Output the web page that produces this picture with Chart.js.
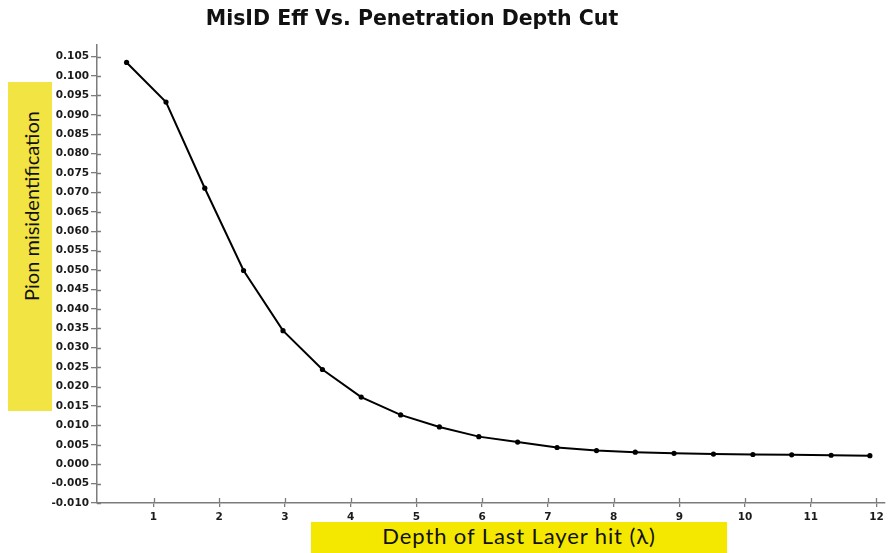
<!DOCTYPE html>
<html>
<head>
<meta charset="utf-8">
<script src="https://cdn.jsdelivr.net/npm/chart.js@4/dist/chart.umd.min.js"></script>
<style>
  html, body { margin: 0; padding: 0; background: #fff; }
  #wrap { position: relative; width: 889px; height: 553px; overflow: hidden; }
  #chart { position: absolute; left: 0; top: 0; }
  .ybox { position: absolute; left: 8px; top: 82px; width: 44px; height: 329px; background: #f1e443; }
  .xbox { position: absolute; left: 311px; top: 522px; width: 416px; height: 31px; background: #f5e800; }
  .ylab { position: absolute; left: -89px; top: 194px; width: 240px; height: 24px; line-height: 24px;
          text-align: center; transform: rotate(-90deg); font: 20px Lato, "Open Sans", sans-serif; color: #111; }
  .xlab { position: absolute; left: 311px; top: 522px; width: 416px; height: 31px; line-height: 33px;
          text-align: center; font: 22px Lato, "Open Sans", sans-serif; letter-spacing: 0.9px; color: #111; }
</style>
</head>
<body>
<div id="wrap">
  <canvas id="chart" width="889" height="553"></canvas>
  <div class="ybox"></div>
  <div class="ylab">Pion misidentification</div>
  <div class="xbox"></div>
  <div class="xlab">Depth of Last Layer hit (λ)</div>
</div>
<script>
const chartTitle = 'MisID Eff Vs. Penetration Depth Cut';

// depth cut (lambda) and misID efficiency
const depth = [0.59, 1.19, 1.78, 2.37, 2.97, 3.57, 4.16, 4.76, 5.35, 5.95,
               6.54, 7.14, 7.74, 8.33, 8.92, 9.52, 10.12, 10.71, 11.31, 11.90];
const misid = [0.1035, 0.0933, 0.0711, 0.0499, 0.0344, 0.0244, 0.0173, 0.0127, 0.0096, 0.0071,
               0.0057, 0.0043, 0.0035, 0.0031, 0.0028, 0.0026, 0.0025, 0.0024, 0.0023, 0.0022];

const xTicks = [1, 2, 3, 4, 5, 6, 7, 8, 9, 10, 11, 12];
const yTicks = [-0.010, -0.005, 0.000, 0.005, 0.010, 0.015, 0.020, 0.025, 0.030, 0.035, 0.040, 0.045,
                0.050, 0.055, 0.060, 0.065, 0.070, 0.075, 0.080, 0.085, 0.090, 0.095, 0.100, 0.105];

const axisColor = '#7c7c7c';
const tickFont = { family: 'DejaVu Sans', weight: 'bold', size: 10.5 };

// title drawn a bit left of centre like the original, plus the small inner tick stubs
const extras = {
    id: 'extras',
    afterDraw(chart) {
        const ctx = chart.ctx;
        const area = chart.chartArea;
        const xs = chart.scales.x;
        const ys = chart.scales.y;
        ctx.save();
        ctx.strokeStyle = axisColor;
        ctx.lineWidth = 1.3;
        ctx.beginPath();
        xTicks.forEach(v => {
            const px = Math.round(xs.getPixelForValue(v)) + 0.5;
            ctx.moveTo(px, area.bottom);
            ctx.lineTo(px, area.bottom - 5);
        });
        yTicks.forEach(v => {
            const py = Math.round(ys.getPixelForValue(v)) + 0.5;
            ctx.moveTo(area.left, py);
            ctx.lineTo(area.left + 4, py);
        });
        ctx.stroke();

        ctx.fillStyle = '#111';
        ctx.font = 'bold 20.5px "DejaVu Sans"';
        ctx.textAlign = 'center';
        ctx.textBaseline = 'middle';
        ctx.fillText(chartTitle, 412, 20);
        ctx.restore();
    }
};

new Chart(document.getElementById('chart'), {
    type: 'line',
    data: {
        datasets: [{
            data: depth.map((d, i) => ({ x: d, y: misid[i] })),
            borderColor: '#000',
            backgroundColor: '#000',
            borderWidth: 2,
            pointRadius: 2.6,
            pointBorderWidth: 0,
            tension: 0
        }]
    },
    options: {
        responsive: false,
        animation: false,
        layout: { padding: { top: 45, right: 0, left: 0, bottom: 0 } },
        plugins: { legend: { display: false }, title: { display: false }, tooltip: { enabled: false } },
        scales: {
            x: {
                type: 'linear',
                min: 0.14,
                max: 12.13,
                afterBuildTicks: scale => { scale.ticks = xTicks.map(v => ({ value: v })); },
                afterFit: scale => { scale.height = 50; },
                ticks: { font: tickFont, color: '#1a1a1a', padding: 4, maxRotation: 0,
                         callback: v => String(v) },
                grid: { drawOnChartArea: false, drawTicks: true, tickLength: 4, color: axisColor, lineWidth: 1.3 },
                border: { color: axisColor, width: 1.5 }
            },
            y: {
                type: 'linear',
                min: -0.010,
                max: 0.108,
                afterBuildTicks: scale => { scale.ticks = yTicks.map(v => ({ value: v })); },
                afterFit: scale => { scale.width = 97; },
                ticks: { font: tickFont, color: '#1a1a1a', padding: 2,
                         callback: v => Number(v).toFixed(3) },
                grid: { drawOnChartArea: false, drawTicks: true, tickLength: 6, color: axisColor, lineWidth: 1.3 },
                border: { color: axisColor, width: 1.5 }
            }
        }
    },
    plugins: [extras]
});
</script>
</body>
</html>
